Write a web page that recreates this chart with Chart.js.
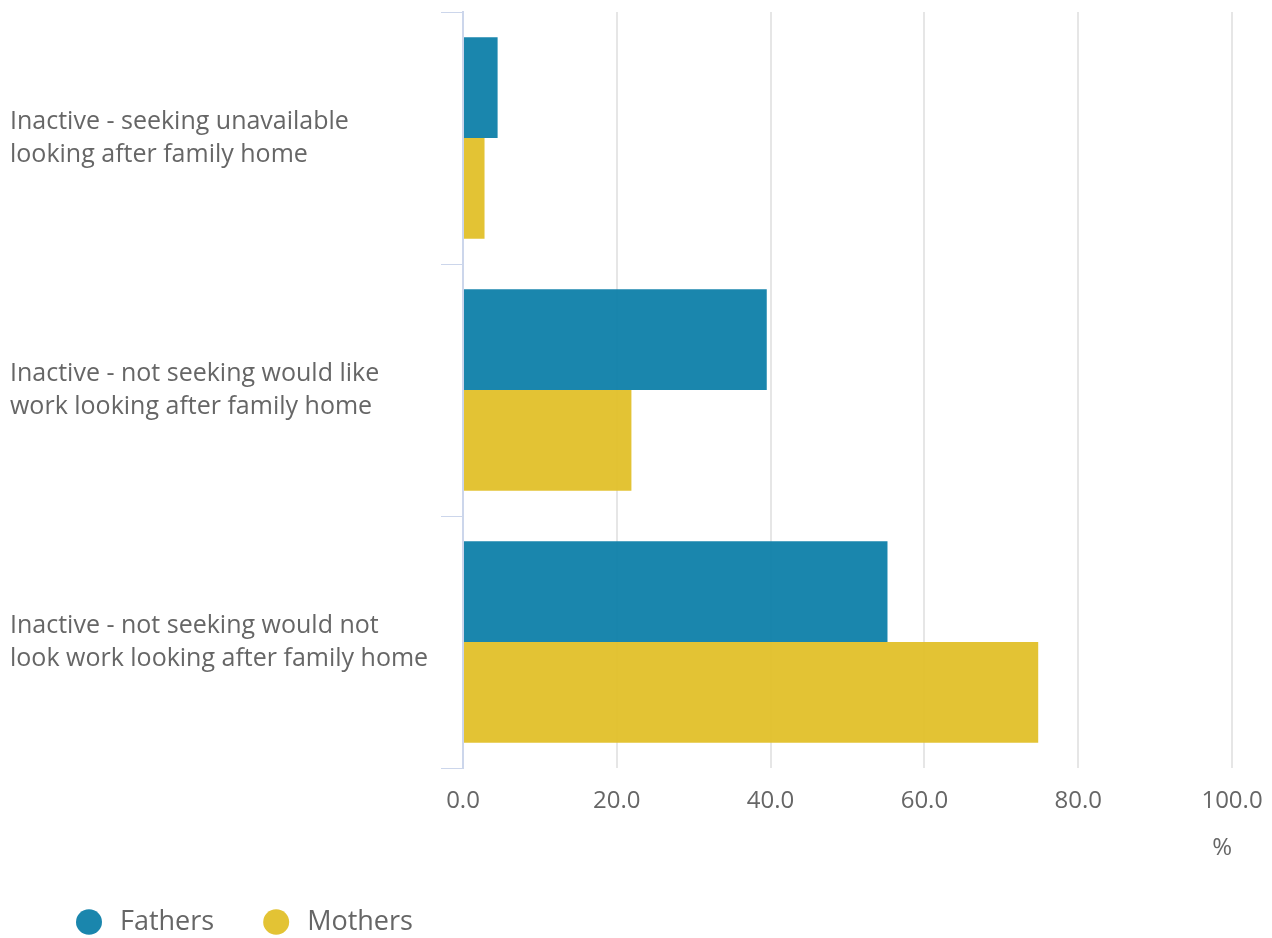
<!DOCTYPE html>
<html>
<head>
<meta charset="utf-8">
<script src="https://cdn.jsdelivr.net/npm/chart.js@4/dist/chart.umd.min.js"></script>
<style>
  html, body { margin: 0; padding: 0; background: #ffffff; }
  #wrap { width: 1272px; height: 938px; position: relative; }
</style>
</head>
<body>
<div id="wrap"><canvas id="c" width="1272" height="938"></canvas></div>
<script>
const categories = [
  ["Inactive - seeking unavailable", "looking after family home"],
  ["Inactive - not seeking would like", "work looking after family home"],
  ["Inactive - not seeking would not", "look work looking after family home"]
];
const fathers = [4.5, 39.5, 55.2];
const mothers = [2.8, 21.9, 74.8];
const seriesNames = ["Fathers", "Mothers"];
const xTicks = [0, 20, 40, 60, 80, 100];

const FONT = "'Open Sans', sans-serif";

// Nudge the legend block to the reference position
const legendShift = {
  id: 'legendShift',
  afterLayout(chart) {
    const l = chart.legend;
    if (!l) return;
    l.left += 17; l.right += 17;
    l.top += 7.5; l.bottom += 7.5;
  }
};

new Chart(document.getElementById('c'), {
  type: 'bar',
  data: {
    labels: categories,
    datasets: [
      { label: seriesNames[0], data: fathers, backgroundColor: 'rgba(14,128,169,0.95)', borderWidth: 0 },
      { label: seriesNames[1], data: mothers, backgroundColor: 'rgba(225,192,41,0.95)', borderWidth: 0 }
    ]
  },
  plugins: [legendShift],
  options: {
    indexAxis: 'y',
    responsive: false,
    animation: false,
    devicePixelRatio: 1,
    categoryPercentage: 0.8,
    barPercentage: 1.0,
    layout: { padding: { left: 10, right: 40, top: 12, bottom: 0 } },
    scales: {
      x: {
        min: 0, max: 100,
        afterBuildTicks: (s) => { s.ticks = xTicks.map(v => ({ value: v })); },
        afterFit: (s) => { s.height = 84; s.paddingLeft = 0; s.paddingRight = 0; },
        ticks: {
          color: '#666666',
          font: { family: FONT, size: 24 },
          padding: 19,
          callback: (v) => Number(v).toFixed(1)
        },
        grid: { color: '#e6e6e6', lineWidth: 2, drawTicks: false },
        border: { display: false },
        title: {
          display: true, text: '%', align: 'end',
          color: '#666666', font: { family: FONT, size: 24, lineHeight: 0.34 },
          padding: { top: 0, bottom: 0 }
        }
      },
      y: {
        afterFit: (s) => { s.width = 453; s.paddingTop = 0; s.paddingBottom = 0; },
        ticks: {
          color: '#666666',
          font: { family: FONT, size: 25, lineHeight: 1.32 },
          crossAlign: 'far',
          padding: 12
        },
        grid: { drawOnChartArea: false, color: '#ccd6eb', tickLength: 22, offset: true },
        border: { display: true, color: '#ccd6eb', width: 2 }
      }
    },
    plugins: {
      legend: {
        position: 'bottom',
        align: 'start',
        labels: {
          usePointStyle: true,
          pointStyle: 'circle',
          boxHeight: 18,
          pointStyleWidth: 26,
          color: '#666666',
          font: { family: FONT, size: 27 },
          padding: 49,
          generateLabels: (chart) => Chart.defaults.plugins.legend.labels.generateLabels(chart)
            .map(item => Object.assign(item, { text: '\u2009' + item.text }))
        }
      },
      tooltip: { enabled: false }
    }
  }
});
</script>
</body>
</html>
